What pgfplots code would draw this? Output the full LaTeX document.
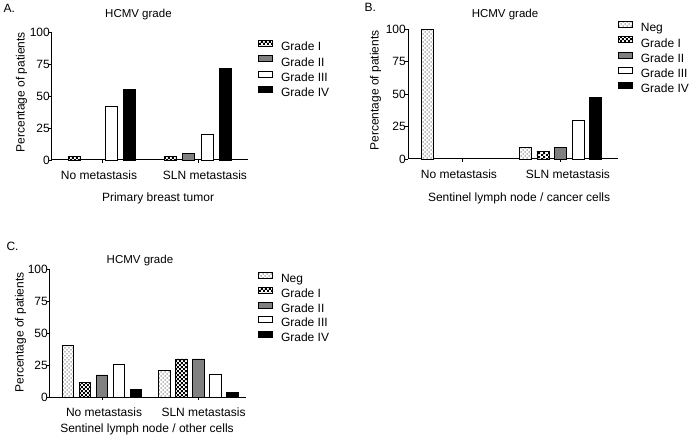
\documentclass[border=0pt]{standalone}
\usepackage{fontspec}
\setmainfont{Liberation Sans}
\usepackage{pgfplots}
\pgfplotsset{compat=1.18}
\usetikzlibrary{patterns}
\definecolor{gtwo}{RGB}{128,128,128}
\pgfdeclarepatternformonly{checker}{\pgfpointorigin}{\pgfqpoint{4.4pt}{4.4pt}}{\pgfqpoint{4.4pt}{4.4pt}}{%
 \pgfpathrectangle{\pgfpointorigin}{\pgfqpoint{2.2pt}{2.2pt}}%
 \pgfpathrectangle{\pgfqpoint{2.2pt}{2.2pt}}{\pgfqpoint{2.2pt}{2.2pt}}%
 \pgfusepath{fill}}
\pgfdeclarepatternformonly{negdots}{\pgfqpoint{-0.5pt}{-0.5pt}}{\pgfqpoint{4.5pt}{4.5pt}}{\pgfqpoint{4pt}{4pt}}{%
 \pgfpathcircle{\pgfqpoint{1pt}{1pt}}{0.75pt}%
 \pgfpathcircle{\pgfqpoint{3pt}{3pt}}{0.75pt}%
 \pgfusepath{fill}}
\pgfplotsset{
 ybar legend/.style={legend image code/.code={\draw[##1] (0pt,1pt) rectangle (14pt,7pt);}},
 neg/.style={draw=black, line width=0.9pt, fill=white, postaction={pattern=negdots, pattern color=black!55}},
 gI/.style={draw=black, line width=0.9pt, fill=white, postaction={pattern=checker, pattern color=black}},
 gII/.style={draw=black, line width=0.9pt, fill=gtwo},
 gIII/.style={draw=black, line width=0.9pt, fill=white},
 gIV/.style={draw=black, line width=0.9pt, fill=black},
 panel/.style={
  scale only axis, axis lines*=left, ymin=0, ymax=100, ytick={0,25,50,75,100},
  xtick={0,1},
  tick align=outside, major tick length=3pt,
  axis line style={line width=1pt}, tick style={line width=0.9pt, black},
  ybar, bar width=12pt,
  /pgf/number format/assume math mode=true,
  tick label style={font=\fontsize{12}{14}\selectfont},
  yticklabel style={inner sep=1pt, xshift=2pt},
  xticklabel style={yshift=-4pt},
  label style={font=\fontsize{12}{14}\selectfont},
  every axis title shift=0pt,
  title style={font=\fontsize{11.5}{14}\selectfont, anchor=center},
  legend style={draw=none, fill=none, inner sep=0pt, anchor=north west,
    font=\fontsize{12}{14}\selectfont, row sep=2pt, column sep=8pt,
    nodes={inner sep=0pt, text height=9pt, text depth=2.5pt}},
  legend cell align=left,
  clip=false,
 }
}
\begin{document}
\begin{tikzpicture}
\path[use as bounding box] (0pt,0pt) rectangle (689pt,437pt);
\node[anchor=base west, font=\fontsize{12}{14}\selectfont] at (0pt,424pt) {A.};
\node[anchor=base west, font=\fontsize{12}{14}\selectfont] at (361pt,425pt) {B.};
\node[anchor=base west, font=\fontsize{12}{14}\selectfont] at (3pt,186pt) {C.};
% Panel A
\begin{axis}[panel, at={(52pt,277pt)}, anchor=south west, width=196pt, height=128pt,
  xmin=-0.521, xmax=1.521, ybar=6.3pt, bar width=12pt,
  xticklabels={{\kern-6pt No metastasis}, {SLN metastasis\kern-14pt}},
  title={HCMV grade}, title style={at={(axis description cs:0.441,1.133)}},
  xlabel={Primary breast tumor}, xlabel style={at={(axis description cs:0.541,-0.324)}, anchor=base},
  ylabel={Percentage of patients}, ylabel style={at={(axis description cs:-0.155,0.53)}, anchor=center},
  legend style={at={(axis description cs:1.051,0.938)}}]
\addplot[gI] coordinates {(0,2.6) (1,2.8)};
\addplot[gII] coordinates {(1,5.2)};
\addplot[gIII] coordinates {(0,41.7) (1,19.8)};
\addplot[gIV] coordinates {(0,55.2) (1,71.5)};
\legend{Grade I, Grade II, Grade III, Grade IV}
\end{axis}
% Panel B
\begin{axis}[panel, at={(408pt,278pt)}, anchor=south west, width=210pt, height=130pt,
  xmin=-0.556, xmax=1.587, ybar=5.5pt, bar width=12pt,
  xticklabels={{\kern-7pt No metastasis}, {SLN metastasis\kern-15pt}},
  title={HCMV grade}, title style={at={(axis description cs:0.462,1.108)}},
  xlabel={Sentinel lymph node / cancer cells}, xlabel style={at={(axis description cs:0.529,-0.328)}, anchor=base},
  ylabel={Percentage of patients}, ylabel style={at={(axis description cs:-0.155,0.527)}, anchor=center},
  legend style={at={(axis description cs:0.999,1.062)}}]
\addplot[neg] coordinates {(0,100) (1,9.1)};
\addplot[gI] coordinates {(1,6.0)};
\addplot[gII] coordinates {(1,9.1)};
\addplot[gIII] coordinates {(1,29.6)};
\addplot[gIV] coordinates {(1,47.5)};
\legend{Neg, Grade I, Grade II, Grade III, Grade IV}
\end{axis}
% Panel C
\begin{axis}[panel, at={(50pt,40pt)}, anchor=south west, width=196pt, height=128pt,
  xmin=-0.539, xmax=1.492, ybar=5.5pt, bar width=11.5pt,
  xticklabels={{No metastasis\kern-4pt}, {SLN metastasis\kern-10pt}},
  title={HCMV grade}, title style={at={(axis description cs:0.459,1.07)}},
  xlabel={Sentinel lymph node / other cells}, xlabel style={at={(axis description cs:0.495,-0.279)}, anchor=base},
  ylabel={Percentage of patients}, ylabel style={at={(axis description cs:-0.150,0.504)}, anchor=center},
  legend style={at={(axis description cs:1.061,0.977)}, row sep=1.5pt}]
\addplot[neg] coordinates {(0,40.4) (1,20.8)};
\addplot[gI] coordinates {(0,11.5) (1,29.7)};
\addplot[gII] coordinates {(0,17.2) (1,29.7)};
\addplot[gIII] coordinates {(0,25.8) (1,18)};
\addplot[gIV] coordinates {(0,6) (1,3.4)};
\legend{Neg, Grade I, Grade II, Grade III, Grade IV}
\end{axis}
\end{tikzpicture}
\end{document}
